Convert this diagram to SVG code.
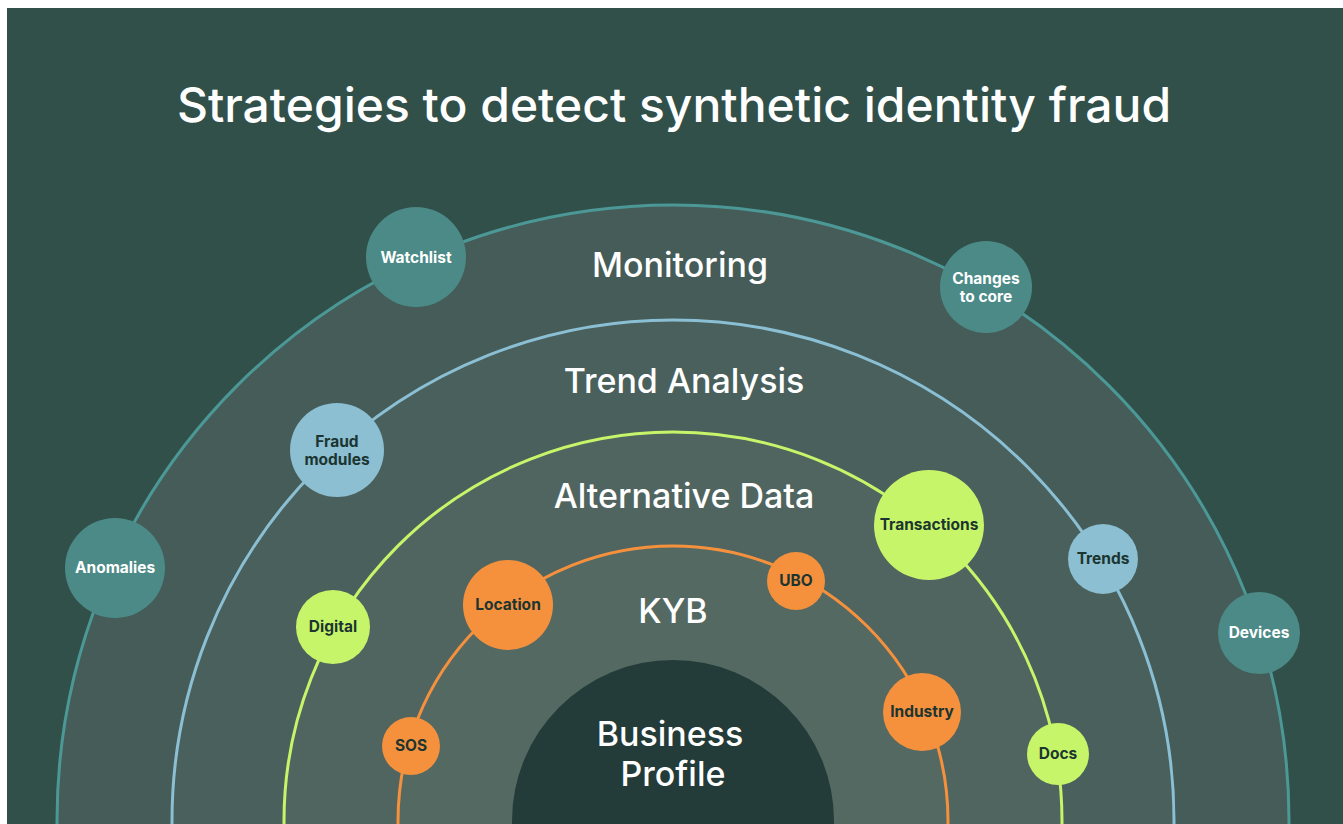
<svg xmlns="http://www.w3.org/2000/svg" width="1343" height="824" viewBox="0 0 1343 824">
<style>
.title{font-family:Inter,"Liberation Sans",sans-serif;font-size:48px;font-weight:500;fill:#ffffff;text-anchor:middle}
.ring-label{font-family:Inter,"Liberation Sans",sans-serif;font-size:34px;font-weight:500;fill:#ffffff;text-anchor:middle}
.node-label{font-family:Inter,"Liberation Sans",sans-serif;font-size:15.5px;font-weight:700;text-anchor:middle}
.light{fill:#ffffff}
.dark{fill:#1c3531}
.teal{fill:#4b8a87}
.blue{fill:#8bbfd1}
.lime{fill:#c6f56a}
.orange{fill:#f5913d}
.ring{stroke-width:3}
</style>
<rect x="0" y="0" width="1343" height="824" fill="#ffffff"/>
<rect x="7" y="8" width="1336" height="816" fill="#31504a"/>
<g id="rings">
<circle id="ring-monitoring" class="ring" cx="673" cy="821" r="616" fill="#455c59" stroke="#4b9896"/>
<circle id="ring-trend" class="ring" cx="673" cy="821" r="501" fill="#4a605d" stroke="#8bbfd4"/>
<circle id="ring-alt" class="ring" cx="673" cy="821" r="389" fill="#506560" stroke="#c6f56a"/>
<circle id="ring-kyb" class="ring" cx="673" cy="821" r="275" fill="#556963" stroke="#f5913d"/>
<circle id="business-profile" cx="673" cy="821" r="161" fill="#233b39"/>
</g>
<text class="title" x="674" y="122">Strategies to detect synthetic identity fraud</text>
<g id="labels">
<text class="ring-label" x="680" y="277">Monitoring</text>
<text class="ring-label" x="684" y="393">Trend Analysis</text>
<text class="ring-label" x="684" y="508">Alternative Data</text>
<text class="ring-label" x="673" y="623">KYB</text>
<text class="ring-label" x="670" y="746">Business</text>
<text class="ring-label" x="673" y="786">Profile</text>
</g>
<g id="node-watchlist"><circle class="teal" cx="416" cy="257" r="50"/><text class="node-label light" x="416" y="263">Watchlist</text></g>
<g id="node-changes"><circle class="teal" cx="986" cy="287" r="46"/><text class="node-label light" x="986" y="284">Changes</text><text class="node-label light" x="986" y="302">to core</text></g>
<g id="node-anomalies"><circle class="teal" cx="115" cy="568" r="50"/><text class="node-label light" x="115" y="573">Anomalies</text></g>
<g id="node-devices"><circle class="teal" cx="1259" cy="633" r="41"/><text class="node-label light" x="1259" y="638">Devices</text></g>
<g id="node-fraud"><circle class="blue" cx="337" cy="450" r="47"/><text class="node-label dark" x="337" y="447">Fraud</text><text class="node-label dark" x="337" y="465">modules</text></g>
<g id="node-trends"><circle class="blue" cx="1103" cy="559" r="35"/><text class="node-label dark" x="1103" y="564">Trends</text></g>
<g id="node-transactions"><circle class="lime" cx="929" cy="525" r="55"/><text class="node-label dark" x="929" y="530">Transactions</text></g>
<g id="node-digital"><circle class="lime" cx="333" cy="627" r="37"/><text class="node-label dark" x="333" y="632">Digital</text></g>
<g id="node-docs"><circle class="lime" cx="1058" cy="754" r="31"/><text class="node-label dark" x="1058" y="759">Docs</text></g>
<g id="node-location"><circle class="orange" cx="508" cy="605" r="45"/><text class="node-label dark" x="508" y="610">Location</text></g>
<g id="node-ubo"><circle class="orange" cx="796" cy="581" r="29"/><text class="node-label dark" x="796" y="586">UBO</text></g>
<g id="node-industry"><circle class="orange" cx="922" cy="712" r="39"/><text class="node-label dark" x="922" y="717">Industry</text></g>
<g id="node-sos"><circle class="orange" cx="411" cy="746" r="29"/><text class="node-label dark" x="411" y="751">SOS</text></g>
</svg>
